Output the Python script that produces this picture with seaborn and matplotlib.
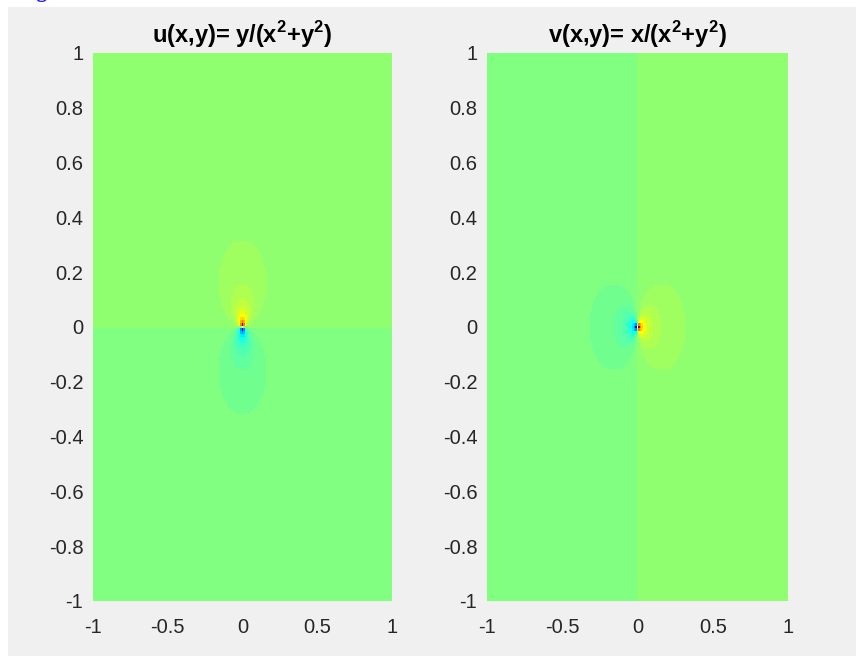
import numpy as np
import pandas as pd
import matplotlib
matplotlib.use("Agg")
import matplotlib.pyplot as plt
from matplotlib.colors import ListedColormap
from matplotlib.patches import Rectangle
import seaborn as sns

sns.set_theme(style="white")
plt.rcParams["font.family"] = ["Liberation Sans", "DejaVu Sans"]
plt.rcParams["mathtext.fontset"] = "custom"
plt.rcParams["mathtext.rm"] = "Liberation Sans"
plt.rcParams["mathtext.bf"] = "Liberation Sans:bold"

# Sampling grid (step 0.01 on [-1, 1])
grid_min, grid_max, grid_step = -1.0, 1.0, 0.01
n_pts = int(round((grid_max - grid_min) / grid_step)) + 1
xs = np.linspace(grid_min, grid_max, n_pts)
ys = np.linspace(grid_min, grid_max, n_pts)

# Tick values and their labels
tick_vals = [-1, -0.5, 0, 0.5, 1]
x_tick_labels = ["-1", "-0.5", "0", "0.5", "1"]
y_tick_vals = [-1, -0.8, -0.6, -0.4, -0.2, 0, 0.2, 0.4, 0.6, 0.8, 1]
y_tick_labels = ["-1", "-0.8", "-0.6", "-0.4", "-0.2", "0", "0.2", "0.4", "0.6", "0.8", "1"]

# Colour limits
c_min, c_max = -100, 100

titles = [r"u(x,y)= y/(x$^\mathbf{2}$+y$^\mathbf{2}$)",
          r"v(x,y)= x/(x$^\mathbf{2}$+y$^\mathbf{2}$)"]

X, Y = np.meshgrid(xs, ys)
with np.errstate(divide="ignore", invalid="ignore"):
    U = Y / (X ** 2 + Y ** 2)
    V = X / (X ** 2 + Y ** 2)


def jet_table(m=64):
    """Classic 64-entry jet table."""
    n = int(np.ceil(m / 4))
    u = np.r_[np.arange(1, n + 1) / n, np.ones(n - 1), np.arange(n, 0, -1) / n]
    g = int(np.ceil(n / 2)) - (1 if m % 4 == 1 else 0) + np.arange(1, len(u) + 1)
    r = g + n
    b = g - n
    J = np.zeros((m, 3))
    k = r <= m
    J[r[k] - 1, 0] = u[k]
    k = g <= m
    J[g[k] - 1, 1] = u[k]
    k = b >= 1
    J[b[k] - 1, 2] = u[k]
    return J


cmap = ListedColormap(jet_table(64))

fig = plt.figure(figsize=(8.56, 6.56), dpi=100, facecolor="white")
W, H = 856, 656
fig.patches.append(Rectangle((8 / W, 0), 1 - 8 / W, (H - 7) / H,
                             transform=fig.transFigure, facecolor="#f0f0f0",
                             edgecolor="none", zorder=-10))
fig.text(35 / W, (H + 2.5) / H, "g", color="#1a1aff", fontsize=17,
         family="DejaVu Serif", va="baseline", ha="left")

axes_boxes = [(93, 53, 392, 601), (487, 53, 788, 601)]
fields = [U, V]


def pos(v):
    return (v - grid_min) / grid_step + 0.5


for (x0, y0, x1, y1), field, title in zip(axes_boxes, fields, titles):
    ax = fig.add_axes([x0 / W, (H - y1) / H, (x1 - x0) / W, (y1 - y0) / H])
    df = pd.DataFrame(field, index=ys, columns=xs)
    sns.heatmap(df, ax=ax, cmap=cmap, vmin=c_min, vmax=c_max, cbar=False,
                xticklabels=False, yticklabels=False)
    ax.set_facecolor("white")
    ax.set_xlim(pos(grid_min), pos(grid_max))
    ax.set_ylim(pos(grid_min), pos(grid_max))
    ax.set_xticks([pos(v) for v in tick_vals])
    ax.set_xticklabels(x_tick_labels)
    ax.set_yticks([pos(v) for v in y_tick_vals])
    ax.set_yticklabels(y_tick_labels, rotation=0)
    ax.set_xlabel("")
    ax.set_ylabel("")
    ax.tick_params(axis="x", length=0, pad=12, labelsize=14.5, colors="#262626")
    ax.tick_params(axis="y", length=0, pad=7, labelsize=14.5, colors="#262626")
    for s in ax.spines.values():
        s.set_visible(False)
    ax.set_title(title, fontsize=17, fontweight="bold", color="black", pad=7)

fig.savefig("out.png", dpi=100, facecolor="white")
